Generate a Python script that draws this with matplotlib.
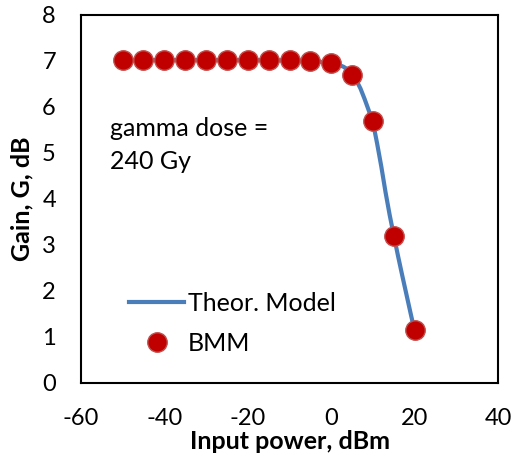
import matplotlib.pyplot as plt

plt.rcParams['font.family'] = ['Lato', 'DejaVu Sans']
plt.rcParams['axes.unicode_minus'] = False

# measured points (BMM)
p_in = [-50, -45, -40, -35, -30, -25, -20, -15, -10, -5, 0, 5, 10, 15, 20]
gain = [7.02, 7.02, 7.02, 7.02, 7.02, 7.02, 7.02, 7.02, 7.01, 7.0, 6.95, 6.7, 5.7, 3.2, 1.15]

# theoretical model
p_model = [-50, -40, -30, -20, -10, -5, 0, 1, 2, 3, 4, 5, 6, 7, 8, 9, 10,
           11, 12, 13, 14, 15, 16, 17, 18, 19, 20]
g_model = [7.02, 7.02, 7.02, 7.02, 7.01, 7.0, 6.96, 6.94, 6.91, 6.87, 6.81, 6.72, 6.58, 6.40,
           6.17, 5.92, 5.66, 5.2, 4.7, 4.15, 3.65, 3.2, 2.76, 2.34, 1.93, 1.52, 1.12]

fig = plt.figure(figsize=(5.12, 4.67), dpi=100)
ax = fig.add_axes([0.158, 0.180, 0.815, 0.788])

ax.plot(p_model, g_model, color='#4A7EBB', lw=3, label='Theor. Model', zorder=2)
ax.plot(p_in, gain, 'o', ms=14, mfc='#C00000', mec='#C0504D', mew=1, label='BMM', zorder=3)

ax.set_xlim(-60, 40)
ax.set_ylim(0, 8)
ax.set_xticks([-60, -40, -20, 0, 20, 40])
ax.set_yticks(range(0, 9))
ax.tick_params(length=0, labelsize=17)
ax.tick_params(axis='x', pad=18)
ax.tick_params(axis='y', pad=18)
for s in ax.spines.values():
    s.set_linewidth(1.5)

ax.set_xlabel('Input power, dBm', fontsize=18, fontweight='bold', labelpad=1)
ax.set_ylabel('Gain, G, dB', fontsize=18, fontweight='bold', labelpad=6)

ax.text(-53, 5.17, 'gamma dose =\n240 Gy', fontsize=18, va='center', linespacing=1.5)

ax.legend(loc='lower left', bbox_to_anchor=(0.08, 0.035), frameon=False, fontsize=18,
          handlelength=2.2, handletextpad=0.15, labelspacing=0.7, borderaxespad=0.2)

plt.savefig('out.png')
